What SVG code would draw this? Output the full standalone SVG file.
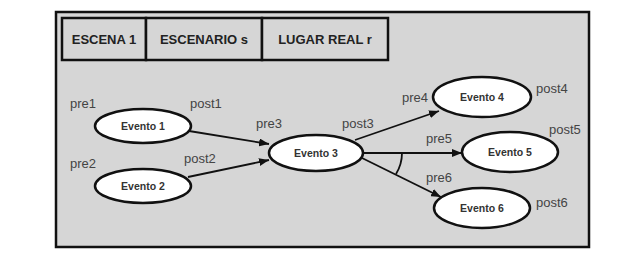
<svg xmlns="http://www.w3.org/2000/svg" width="628" height="260" viewBox="0 0 628 260">
<style>
.frame{fill:#d6d6d6;stroke:#111;stroke-width:2.5}
.hdr{fill:#d6d6d6;stroke:#111;stroke-width:2.5}
.htxt{font-family:"Liberation Sans",Arial,sans-serif;font-size:13px;font-weight:bold;fill:#222;text-anchor:middle}
.node{fill:#fff;stroke:#111;stroke-width:2.5}
.ntxt{font-family:"Liberation Sans",Arial,sans-serif;font-size:10.5px;font-weight:bold;fill:#333;text-anchor:middle}
.lbl{font-family:"Liberation Sans",Arial,sans-serif;font-size:13px;fill:#444}
.edge{fill:none;stroke:#111;stroke-width:1.8}
</style>
<defs>
<marker id="ah" viewBox="0 0 10 8" refX="10" refY="4" markerWidth="10" markerHeight="8" markerUnits="userSpaceOnUse" orient="auto">
<path d="M0,0 L10,4 L0,8 Z" fill="#111"/>
</marker>
</defs>
<rect width="628" height="260" fill="#fff"/>
<rect class="frame" x="56" y="12" width="533" height="235"/>
<g id="header">
<rect class="hdr" x="62" y="18" width="84" height="42"/>
<rect class="hdr" x="146" y="18" width="116" height="42"/>
<rect class="hdr" x="262" y="18" width="126" height="42"/>
<text class="htxt" x="104" y="44">ESCENA 1</text>
<text class="htxt" x="204" y="44">ESCENARIO s</text>
<text class="htxt" x="325" y="44">LUGAR REAL r</text>
</g>
<g id="connectors">
<line class="edge" x1="189" y1="131" x2="269" y2="144" marker-end="url(#ah)"/>
<line class="edge" x1="188" y1="177" x2="269" y2="160" marker-end="url(#ah)"/>
<line class="edge" x1="355" y1="140" x2="439" y2="111" marker-end="url(#ah)"/>
<line class="edge" x1="363" y1="153" x2="462" y2="153" marker-end="url(#ah)"/>
<line class="edge" x1="362" y1="158" x2="441" y2="197" marker-end="url(#ah)"/>
<path class="edge" d="M402,153 A40,40 0 0 1 396,174"/>
</g>
<g id="evento1">
<ellipse class="node" cx="143" cy="126" rx="48" ry="17"/>
<text class="ntxt" x="143" y="130">Evento 1</text>
</g>
<g id="evento2">
<ellipse class="node" cx="143" cy="186" rx="48" ry="17"/>
<text class="ntxt" x="143" y="190">Evento 2</text>
</g>
<g id="evento3">
<ellipse class="node" cx="316" cy="153" rx="47" ry="18"/>
<text class="ntxt" x="316" y="157">Evento 3</text>
</g>
<g id="evento4">
<ellipse class="node" cx="482" cy="97" rx="49" ry="20"/>
<text class="ntxt" x="482" y="101">Evento 4</text>
</g>
<g id="evento5">
<ellipse class="node" cx="510" cy="152" rx="48" ry="20"/>
<text class="ntxt" x="510" y="156">Evento 5</text>
</g>
<g id="evento6">
<ellipse class="node" cx="482" cy="208" rx="48" ry="20"/>
<text class="ntxt" x="482" y="212">Evento 6</text>
</g>
<g id="labels">
<text class="lbl" x="70" y="108">pre1</text>
<text class="lbl" x="190" y="108">post1</text>
<text class="lbl" x="70" y="168">pre2</text>
<text class="lbl" x="184" y="163">post2</text>
<text class="lbl" x="256" y="128">pre3</text>
<text class="lbl" x="342" y="128">post3</text>
<text class="lbl" x="402" y="102">pre4</text>
<text class="lbl" x="536" y="93">post4</text>
<text class="lbl" x="426" y="143">pre5</text>
<text class="lbl" x="549" y="134">post5</text>
<text class="lbl" x="426" y="182">pre6</text>
<text class="lbl" x="536" y="207">post6</text>
</g>
</svg>
